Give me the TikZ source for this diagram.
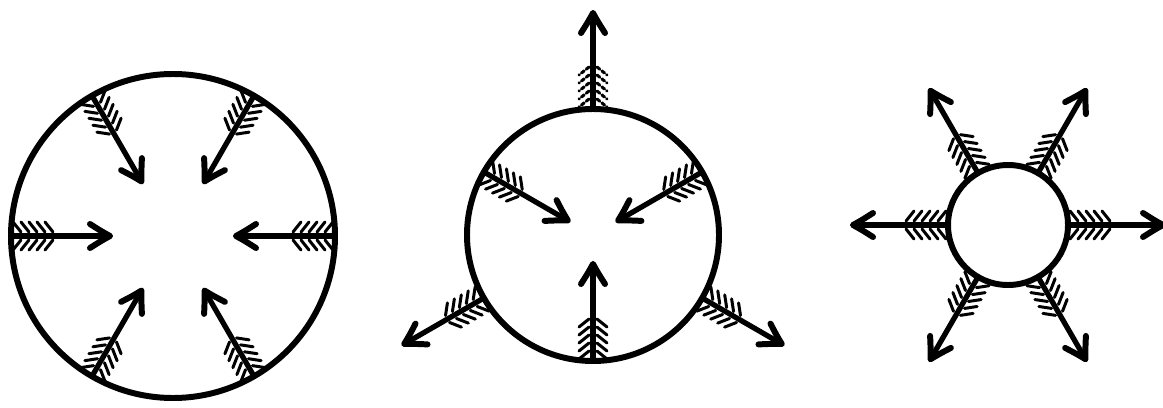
\documentclass[tikz,border=0pt]{standalone}
\usetikzlibrary{calc}

\tikzset{
  rim/.style={line width=3.4pt},
  shaft/.style={line width=3pt, line cap=round},
  barb/.style={line width=3.4pt, line cap=round, line join=round},
  vane/.style={line width=1.7pt, line cap=round}
}

% [vane options] tail point, direction, length
\newcommand{\fletched}[4][]{%
  \begin{scope}[shift={#2}, rotate=#3]
    \draw[shaft] (0,0) -- (#4,0);
    \draw[barb] (#4-20,12) .. controls (#4-9,5) .. (#4,0)
                .. controls (#4-9,-5) .. (#4-20,-12);
    \foreach \p in {10,18,26,34,42}
      \draw[vane, #1] (\p,4) -- (\p-8,14) (\p,-4) -- (\p-8,-14);
  \end{scope}}

\begin{document}
\begin{tikzpicture}[x=0.02cm, y=0.02cm]
\useasboundingbox (0,0) rectangle (1163,407);

\coordinate (c1) at (173,171);
\coordinate (c2) at (593,172);
\coordinate (c3) at (1008,182);

% all pointing in
\draw[rim] (c1) circle[radius=162];
\foreach \a in {0,60,...,300}
  \fletched{($(c1)+(\a:162)$)}{\a+180}{99};

% three in, three out
\draw[rim] (c2) circle[radius=126];
\foreach \a in {30,150,270}
  \fletched{($(c2)+(\a:126)$)}{\a+180}{97};
\fletched[dash pattern=on 2pt off 1.5pt]{($(c2)+(90:126)$)}{90}{96};
\foreach \a in {210,330}
  \fletched{($(c2)+(\a:126)$)}{\a}{92};

% all pointing out
\draw[rim] (c3) circle[radius=60];
\foreach \a in {0,60,...,300}
  \fletched{($(c3)+(\a:60)$)}{\a}{95};
\end{tikzpicture}
\end{document}
